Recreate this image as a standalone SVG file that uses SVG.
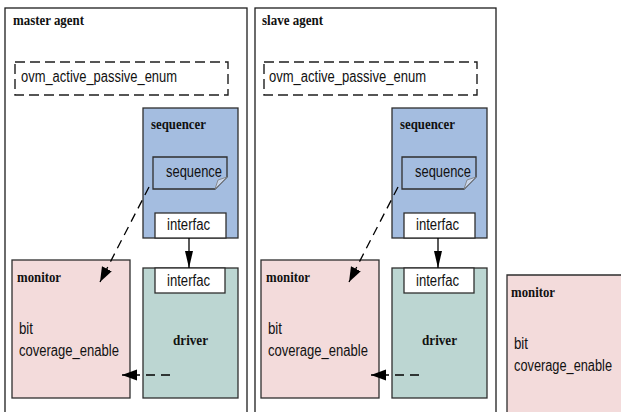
<svg xmlns="http://www.w3.org/2000/svg" width="621" height="412" viewBox="0 0 621 412">
  <defs>
    <style>
      .agent { fill: #ffffff; stroke: #1e1e1e; stroke-width: 1.3; }
      .cfg { fill: none; stroke: #1e1e1e; stroke-width: 1.4; stroke-dasharray: 10 5; }
      .seqr { fill: #a4bde0; stroke: #2e2e2e; stroke-width: 1.3; }
      .seq { fill: #a4bde0; stroke: #2e2e2e; stroke-width: 1.3; }
      .fold { fill: #c9d6ea; stroke: #7a7a7a; stroke-width: 0.8; }
      .port { fill: #ffffff; stroke: #2e2e2e; stroke-width: 1.3; }
      .mon { fill: #f3dbdb; stroke: #2e2e2e; stroke-width: 1.3; }
      .drv { fill: #bcd6d2; stroke: #2e2e2e; stroke-width: 1.3; }
      .edge { fill: none; stroke: #2e2e2e; stroke-width: 1.3; }
      .title { font-family: "Liberation Serif", serif; font-weight: bold; font-size: 15px; fill: #111111; }
      .lbl { font-family: "Liberation Sans", Arial, sans-serif; font-size: 16px; fill: #111111; }
      .wire { fill: none; stroke: #000000; stroke-width: 1.3; }
      .dash { stroke-dasharray: 9 6; }
    </style>
    <marker id="head" markerUnits="userSpaceOnUse" markerWidth="16" markerHeight="12" refX="15" refY="5.5" orient="auto">
      <path d="M0,0 L15,5.5 L0,11 z" fill="#000000" stroke="none"/>
    </marker>
    <marker id="head-narrow" markerUnits="userSpaceOnUse" markerWidth="18" markerHeight="9" refX="17" refY="4" orient="auto">
      <path d="M0,0 L17,4 L0,8 z" fill="#000000" stroke="none"/>
    </marker>
  </defs>

  <!-- master agent -->
  <g id="master-agent">
    <rect class="agent" x="5" y="8" width="242" height="420"/>
    <text class="title" x="13" y="25" textLength="71" lengthAdjust="spacingAndGlyphs">master agent</text>
  </g>
  <g id="master-mode">
    <rect class="cfg" x="15" y="62" width="213" height="33"/>
    <text class="lbl" x="21" y="82" font-size="17" textLength="156" lengthAdjust="spacingAndGlyphs">ovm_active_passive_enum</text>
  </g>
  <g id="master-sequencer">
    <rect class="seqr" x="143" y="108" width="95" height="130"/>
    <text class="title" x="151" y="129" textLength="55" lengthAdjust="spacingAndGlyphs">sequencer</text>
  </g>
  <g id="master-sequence">
    <path class="seq" d="M153,157 H227 V177 L215,189 H153 Z"/>
    <path class="fold" d="M227,177 L215,189 L218,180 Z"/>
    <text class="lbl" x="166" y="177" textLength="56" lengthAdjust="spacingAndGlyphs">sequence</text>
  </g>
  <g id="master-seq-port">
    <rect class="port" x="155" y="213" width="71" height="25"/>
    <text class="lbl" x="167" y="230" textLength="43" lengthAdjust="spacingAndGlyphs">interfac</text>
  </g>
  <g id="master-driver">
    <rect class="drv" x="143" y="268" width="95" height="130"/>
    <text class="title" x="173" y="345" textLength="35" lengthAdjust="spacingAndGlyphs">driver</text>
  </g>
  <g id="master-drv-port">
    <rect class="port" x="155" y="268" width="70" height="25"/>
    <text class="lbl" x="167" y="286" textLength="43" lengthAdjust="spacingAndGlyphs">interfac</text>
  </g>
  <g id="master-monitor">
    <rect class="mon" x="12" y="260" width="118" height="138"/>
    <text class="title" x="17" y="282" textLength="44" lengthAdjust="spacingAndGlyphs">monitor</text>
    <text class="lbl" x="19" y="334" textLength="14" lengthAdjust="spacingAndGlyphs">bit</text>
    <text class="lbl" x="19" y="356" textLength="100" lengthAdjust="spacingAndGlyphs">coverage_enable</text>
  </g>

  <!-- slave agent -->
  <g id="slave-agent">
    <rect class="agent" x="255" y="8" width="241" height="420"/>
    <text class="title" x="262" y="25" textLength="61" lengthAdjust="spacingAndGlyphs">slave agent</text>
  </g>
  <g id="slave-mode">
    <rect class="cfg" x="264" y="62" width="213" height="33"/>
    <text class="lbl" x="269" y="82" font-size="17" textLength="157" lengthAdjust="spacingAndGlyphs">ovm_active_passive_enum</text>
  </g>
  <g id="slave-sequencer">
    <rect class="seqr" x="392" y="108" width="95" height="130"/>
    <text class="title" x="400" y="129" textLength="55" lengthAdjust="spacingAndGlyphs">sequencer</text>
  </g>
  <g id="slave-sequence">
    <path class="seq" d="M402,157 H476 V177 L464,189 H402 Z"/>
    <path class="fold" d="M476,177 L464,189 L467,180 Z"/>
    <text class="lbl" x="415" y="177" textLength="56" lengthAdjust="spacingAndGlyphs">sequence</text>
  </g>
  <g id="slave-seq-port">
    <rect class="port" x="404" y="213" width="71" height="25"/>
    <text class="lbl" x="416" y="230" textLength="43" lengthAdjust="spacingAndGlyphs">interfac</text>
  </g>
  <g id="slave-driver">
    <rect class="drv" x="392" y="268" width="95" height="130"/>
    <text class="title" x="422" y="345" textLength="35" lengthAdjust="spacingAndGlyphs">driver</text>
  </g>
  <g id="slave-drv-port">
    <rect class="port" x="404" y="268" width="70" height="25"/>
    <text class="lbl" x="416" y="286" textLength="43" lengthAdjust="spacingAndGlyphs">interfac</text>
  </g>
  <g id="slave-monitor">
    <rect class="mon" x="261" y="260" width="118" height="138"/>
    <text class="title" x="266" y="282" textLength="44" lengthAdjust="spacingAndGlyphs">monitor</text>
    <text class="lbl" x="268" y="334" textLength="14" lengthAdjust="spacingAndGlyphs">bit</text>
    <text class="lbl" x="268" y="356" textLength="100" lengthAdjust="spacingAndGlyphs">coverage_enable</text>
  </g>

  <!-- stand-alone passive monitor, running past the right and bottom edges -->
  <g id="passive-monitor">
    <rect x="507" y="275" width="114" height="137" fill="#f3dbdb"/>
    <path class="edge" d="M507,412 V275 H621"/>
    <text class="title" x="511" y="297" textLength="44" lengthAdjust="spacingAndGlyphs">monitor</text>
    <text class="lbl" x="514" y="349" textLength="14" lengthAdjust="spacingAndGlyphs">bit</text>
    <text class="lbl" x="514" y="371" font-size="13.5" textLength="98" lengthAdjust="spacingAndGlyphs">coverage_enable</text>
  </g>

  <!-- connectors -->
  <g id="connectors">
    <line class="wire" x1="189" y1="238" x2="189" y2="268" marker-end="url(#head-narrow)"/>
    <line class="wire dash" x1="149" y1="187" x2="100" y2="282" marker-end="url(#head)"/>
    <line class="wire dash" x1="170" y1="375" x2="122" y2="375" marker-end="url(#head)"/>

    <line class="wire" x1="438" y1="238" x2="438" y2="268" marker-end="url(#head-narrow)"/>
    <line class="wire dash" x1="398" y1="187" x2="349" y2="282" marker-end="url(#head)"/>
    <line class="wire dash" x1="419" y1="375" x2="371" y2="375" marker-end="url(#head)"/>
  </g>
</svg>
